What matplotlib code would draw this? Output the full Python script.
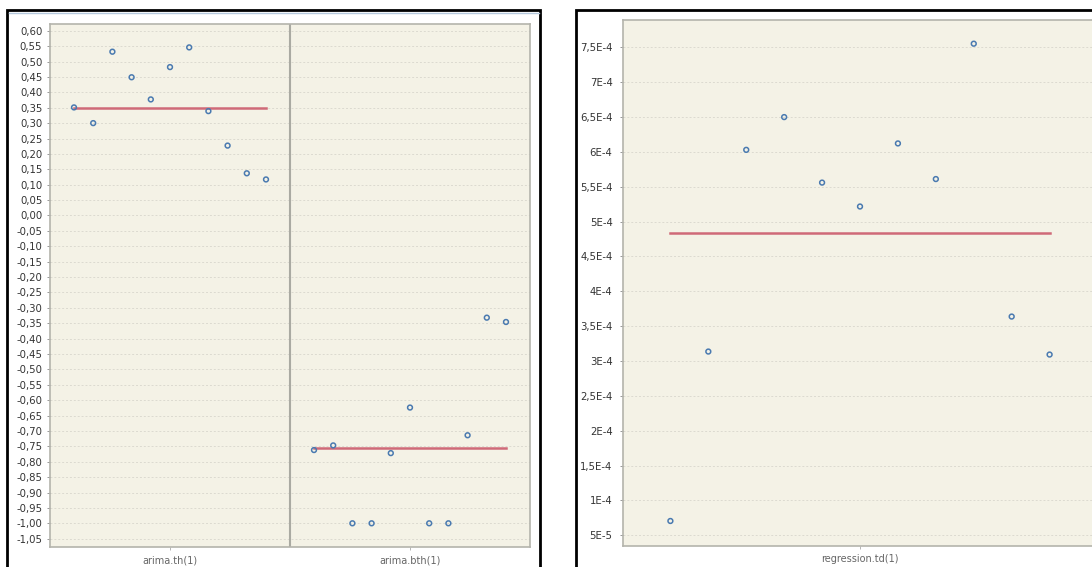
import numpy as np
import matplotlib
matplotlib.use("Agg")
import matplotlib.pyplot as plt
from matplotlib.patches import Rectangle
from matplotlib.lines import Line2D
from matplotlib.ticker import MultipleLocator, FuncFormatter

# --- data ---
left_categories = ["arima.th(1)", "arima.bth(1)"]
arima_th = [0.351, 0.300, 0.532, 0.449, 0.377, 0.482, 0.546, 0.339, 0.227, 0.137, 0.117]
arima_bth = [-0.762, -0.747, -1.000, -1.000, -0.772, -0.624, -1.000, -1.000, -0.714, -0.332, -0.346]

right_categories = ["regression.td(1)"]
regression_td = [0.705e-4, 3.136e-4, 6.03e-4, 6.50e-4, 5.56e-4, 5.217e-4,
                 6.122e-4, 5.611e-4, 7.553e-4, 3.638e-4, 3.093e-4]

BG = "#f4f2e6"
GRID = "#dcdad0"
EDGE = "#b4b4ac"
MARK = "#4a7ab0"
MEAN = "#cf6a78"
W, H = 1092, 567

fig = plt.figure(figsize=(W / 100, H / 100), dpi=100)
fig.patch.set_facecolor("white")


def px_axes(x0, y0, x1, y1):
    # pixel box (top-left origin) -> figure fraction axes
    return fig.add_axes([x0 / W, 1 - y1 / H, (x1 - x0) / W, (y1 - y0) / H])


def style(ax):
    ax.set_facecolor(BG)
    for s in ax.spines.values():
        s.set_color(EDGE)
        s.set_linewidth(1.2)
    ax.yaxis.grid(True, linestyle=(0, (2, 2)), color=GRID, linewidth=0.7)
    ax.set_axisbelow(True)
    ax.tick_params(axis="y", length=2.5, width=0.6, color="#888888", pad=3,
                   labelsize=7.3, labelcolor="#333333")
    ax.tick_params(axis="x", length=2, width=0.6, color="#aaaaaa", pad=4,
                   labelsize=7, labelcolor="#666666")


def dots(ax, i, values):
    n = len(values)
    xs = [i - 0.4 + 0.8 * j / (n - 1) for j in range(n)]
    ax.scatter(xs, values, s=12, facecolors="none", edgecolors=MARK,
               linewidths=1.1, zorder=3)
    m = np.mean(values)
    ax.plot([xs[0], xs[-1]], [m, m], color=MEAN, lw=1.8, zorder=2)


# --- left chart ---
ax1 = px_axes(50, 24, 530, 547)
style(ax1)
dots(ax1, 0, arima_th)
dots(ax1, 1, arima_bth)
ax1.axvline(0.5, color="#aaaaa2", lw=1.5, zorder=1)
ax1.set_xlim(-0.5, 1.5)
ax1.set_ylim(-1.077, 0.622)
ax1.yaxis.set_major_locator(MultipleLocator(0.05))
ax1.yaxis.set_major_formatter(FuncFormatter(lambda v, p: f"{v:.2f}".replace(".", ",").replace("-0,00", "0,00")))
ax1.set_xticks(range(len(left_categories)))
ax1.set_xticklabels(left_categories)


# --- right chart ---
def sci_fmt(v, p):
    if v <= 0:
        return ""
    e = int(np.floor(np.log10(v) + 1e-9))
    mant = v / 10 ** e
    s = f"{mant:.1f}".rstrip("0").rstrip(".").replace(".", ",")
    return f"{s}E{e}"


ax2 = px_axes(623, 20, 1097, 546)
style(ax2)
ax2.tick_params(axis="y", pad=5)
dots(ax2, 0, regression_td)
ax2.set_xlim(-0.5, 0.5)
ax2.set_ylim(0.346e-4, 7.893e-4)
ax2.yaxis.set_major_locator(MultipleLocator(0.5e-4))
ax2.yaxis.set_major_formatter(FuncFormatter(sci_fmt))
ax2.set_xticks(range(len(right_categories)))
ax2.set_xticklabels(right_categories)

# --- window frames ---
fig.patches.append(Rectangle((7 / W, -0.1), (540 - 7) / W, 1 - 10 / H + 0.1,
                             transform=fig.transFigure, fill=False,
                             edgecolor="black", lw=2, zorder=0))
fig.lines.append(Line2D([9 / W, 539 / W], [1 - 12.5 / H] * 2,
                        transform=fig.transFigure, color="#b4c8dc", lw=1))
fig.patches.append(Rectangle((576 / W, -0.1), 1.0, 1 - 10 / H + 0.1,
                             transform=fig.transFigure, fill=False,
                             edgecolor="black", lw=2, zorder=0))

fig.savefig("out.png", dpi=100)
